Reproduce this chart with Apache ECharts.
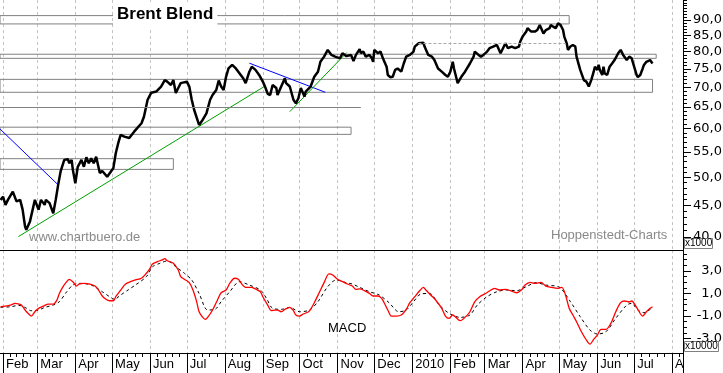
<!DOCTYPE html>
<html><head><meta charset="utf-8">
<script src="https://cdn.jsdelivr.net/npm/echarts@6/dist/echarts.min.js"></script>
<style>html,body{margin:0;padding:0;background:#fff}#c{width:723px;height:373px}</style>
</head><body><div id="c"></div>
<script>
// ---------- DATA ----------
const priceDates = ['2009-01-30','2009-02-01','2009-02-03','2009-02-05','2009-02-09','2009-02-12','2009-02-15','2009-02-17','2009-02-19','2009-02-20','2009-02-23','2009-02-24','2009-02-27','2009-02-28','2009-03-02','2009-03-04','2009-03-07','2009-03-08','2009-03-11','2009-03-14','2009-03-16','2009-03-18','2009-03-20','2009-03-23','2009-03-26','2009-03-27','2009-03-29','2009-03-30','2009-04-01','2009-04-03','2009-04-06','2009-04-08','2009-04-10','2009-04-12','2009-04-14','2009-04-16','2009-04-18','2009-04-21','2009-04-23','2009-04-27','2009-05-02','2009-05-04','2009-05-06','2009-05-08','2009-05-11','2009-05-15','2009-05-19','2009-05-25','2009-05-27','2009-05-30','2009-06-02','2009-06-06','2009-06-10','2009-06-13','2009-06-15','2009-06-18','2009-06-20','2009-06-22','2009-06-24','2009-06-26','2009-07-01','2009-07-03','2009-07-05','2009-07-07','2009-07-11','2009-07-14','2009-07-17','2009-07-20','2009-07-22','2009-07-25','2009-07-27','2009-07-29','2009-07-31','2009-08-02','2009-08-04','2009-08-07','2009-08-10','2009-08-12','2009-08-13','2009-08-16','2009-08-18','2009-08-21','2009-08-23','2009-08-26','2009-08-29','2009-09-01','2009-09-03','2009-09-05','2009-09-07','2009-09-09','2009-09-12','2009-09-13','2009-09-16','2009-09-19','2009-09-20','2009-09-23','2009-09-26','2009-09-28','2009-09-30','2009-10-02','2009-10-05','2009-10-06','2009-10-10','2009-10-13','2009-10-16','2009-10-18','2009-10-21','2009-10-24','2009-10-27','2009-10-30','2009-11-03','2009-11-05','2009-11-08','2009-11-12','2009-11-14','2009-11-16','2009-11-19','2009-11-20','2009-11-22','2009-11-24','2009-11-27','2009-11-29','2009-11-30','2009-12-01','2009-12-04','2009-12-06','2009-12-08','2009-12-11','2009-12-12','2009-12-14','2009-12-16','2009-12-18','2009-12-20','2009-12-23','2009-12-25','2009-12-27','2009-12-30','2010-01-02','2010-01-03','2010-01-06','2010-01-10','2010-01-11','2010-01-14','2010-01-17','2010-01-19','2010-01-22','2010-01-25','2010-01-28','2010-01-30','2010-02-01','2010-02-03','2010-02-04','2010-02-06','2010-02-07','2010-02-10','2010-02-13','2010-02-17','2010-02-20','2010-02-21','2010-02-24','2010-02-26','2010-02-28','2010-03-03','2010-03-05','2010-03-08','2010-03-11','2010-03-14','2010-03-15','2010-03-18','2010-03-19','2010-03-20','2010-03-23','2010-03-26','2010-03-29','2010-03-30','2010-04-01','2010-04-04','2010-04-05','2010-04-08','2010-04-11','2010-04-13','2010-04-15','2010-04-16','2010-04-18','2010-04-20','2010-04-23','2010-04-24','2010-04-26','2010-04-28','2010-04-30','2010-05-01','2010-05-02','2010-05-04','2010-05-05','2010-05-07','2010-05-08','2010-05-10','2010-05-12','2010-05-14','2010-05-15','2010-05-18','2010-05-21','2010-05-23','2010-05-25','2010-05-27','2010-05-29','2010-05-30','2010-06-01','2010-06-02','2010-06-03','2010-06-05','2010-06-06','2010-06-07','2010-06-09','2010-06-11','2010-06-13','2010-06-15','2010-06-18','2010-06-20','2010-06-22','2010-06-25','2010-06-27','2010-06-29','2010-07-01','2010-07-03','2010-07-04','2010-07-06','2010-07-08','2010-07-09','2010-07-11','2010-07-14','2010-07-16'];
const priceValues = [45.95,46.5,45.1,45.95,47.4,45.7,45.95,44.3,41.6,41.1,42.4,42.1,45.95,46.25,44.3,45.95,45.1,45.95,45.4,43.7,45.95,48.6,51.1,53.36,53.5,52.7,53.36,51.4,48.9,52.0,53.36,52.0,53.9,52.7,53.7,52.7,54.0,50.8,51.2,50.1,51.7,54.7,56.8,58.6,58.2,57.9,59.3,61.2,62.7,66.8,68.6,68.9,70.2,71.9,71.5,70.6,71.9,68.5,69.8,71.1,71.5,70.2,66.8,64.3,60.8,62.0,63.5,66.8,68.0,69.3,71.8,70.2,69.3,72.8,75.1,76.1,75.1,74.2,74.7,72.4,71.1,74.2,75.6,74.7,73.3,71.5,70.0,68.3,68.0,70.6,69.8,68.0,70.2,72.4,71.1,70.2,66.8,65.9,67.2,69.8,67.6,68.9,70.2,72.8,74.2,77.0,78.5,80.5,79.0,78.5,78.0,79.5,78.7,79.0,77.2,79.0,80.7,79.5,80.0,78.5,79.0,78.0,77.0,80.5,79.5,80.0,78.0,75.6,73.3,72.7,72.8,74.7,75.1,74.2,76.5,78.5,79.0,80.0,81.5,82.5,82.7,81.5,79.0,78.5,77.5,75.1,74.2,73.3,72.8,74.2,77.0,75.1,72.4,71.1,72.8,74.2,76.5,78.5,80.0,79.0,78.5,79.0,80.0,81.0,81.5,82.0,79.5,80.0,82.5,83.0,81.0,81.5,81.0,81.5,83.0,84.6,86.2,87.3,86.2,86.2,86.7,88.35,87.8,85.6,86.7,87.3,88.35,87.8,87.3,88.9,89.4,88.35,86.7,84.6,82.5,80.5,81.5,82.0,81.5,78.5,74.7,71.9,71.5,70.2,71.9,74.2,75.6,74.7,76.1,74.7,73.3,75.6,73.7,73.3,75.6,76.5,77.5,79.5,80.5,79.0,77.5,78.5,78.0,75.6,73.3,72.7,73.3,75.1,76.1,77.0,77.5,76.5];

const macdDates = ['2009-01-30','2009-02-03','2009-02-07','2009-02-11','2009-02-14','2009-02-16','2009-02-19','2009-02-22','2009-02-24','2009-02-27','2009-03-02','2009-03-06','2009-03-10','2009-03-14','2009-03-17','2009-03-19','2009-03-22','2009-03-25','2009-03-27','2009-03-30','2009-04-02','2009-04-04','2009-04-08','2009-04-13','2009-04-17','2009-04-20','2009-04-23','2009-04-26','2009-04-29','2009-05-02','2009-05-04','2009-05-08','2009-05-12','2009-05-16','2009-05-20','2009-05-25','2009-05-29','2009-06-01','2009-06-03','2009-06-07','2009-06-11','2009-06-13','2009-06-15','2009-06-20','2009-06-24','2009-06-26','2009-06-29','2009-07-03','2009-07-06','2009-07-09','2009-07-11','2009-07-14','2009-07-16','2009-07-18','2009-07-22','2009-07-26','2009-07-29','2009-08-02','2009-08-05','2009-08-09','2009-08-12','2009-08-14','2009-08-18','2009-08-23','2009-08-25','2009-08-30','2009-09-01','2009-09-05','2009-09-08','2009-09-11','2009-09-13','2009-09-16','2009-09-19','2009-09-23','2009-09-26','2009-09-28','2009-10-01','2009-10-04','2009-10-08','2009-10-10','2009-10-13','2009-10-17','2009-10-21','2009-10-25','2009-10-28','2009-11-01','2009-11-05','2009-11-09','2009-11-13','2009-11-16','2009-11-19','2009-11-23','2009-11-27','2009-11-30','2009-12-04','2009-12-07','2009-12-09','2009-12-12','2009-12-15','2009-12-19','2009-12-23','2009-12-27','2009-12-30','2010-01-03','2010-01-07','2010-01-10','2010-01-12','2010-01-16','2010-01-20','2010-01-25','2010-01-28','2010-01-31','2010-02-03','2010-02-05','2010-02-09','2010-02-13','2010-02-17','2010-02-21','2010-02-25','2010-03-01','2010-03-05','2010-03-09','2010-03-13','2010-03-18','2010-03-22','2010-03-27','2010-03-31','2010-04-03','2010-04-07','2010-04-11','2010-04-16','2010-04-20','2010-04-24','2010-04-30','2010-05-03','2010-05-06','2010-05-09','2010-05-12','2010-05-15','2010-05-19','2010-05-23','2010-05-26','2010-05-29','2010-06-01','2010-06-04','2010-06-08','2010-06-12','2010-06-16','2010-06-20','2010-06-23','2010-06-27','2010-06-29','2010-07-03','2010-07-08','2010-07-11','2010-07-14','2010-07-16'];
const macdValues = [-0.18,-0.12,-0.03,0.12,0.06,-0.03,-0.47,-0.82,-1.0,-0.62,-0.32,-0.12,0.06,0.06,0.42,1.0,1.6,2.04,2.25,2.04,1.65,1.83,1.89,1.83,1.65,1.3,0.77,0.48,0.35,0.35,0.71,1.3,1.83,2.04,2.19,2.34,2.78,3.22,3.6,3.81,3.96,4.07,3.89,3.66,3.07,2.48,2.25,1.95,1.3,0.27,-0.62,-1.12,-1.29,-1.12,-0.47,0.42,1.06,1.3,1.89,2.34,2.25,1.95,1.54,1.54,1.45,1.15,0.71,-0.03,-0.53,-0.47,-0.47,-0.62,-0.41,-0.23,-0.53,-0.91,-1.0,-0.82,-0.65,-0.41,0.18,1.06,1.95,2.72,2.63,2.25,2.04,1.83,1.65,1.36,1.4,1.24,1.0,0.77,0.77,0.56,0.18,-0.47,-1.0,-1.0,-0.91,-0.41,0.18,0.71,1.24,1.54,1.3,0.86,0.42,-0.32,-1.0,-1.2,-0.91,-1.06,-1.41,-1.12,-0.62,0.27,0.71,0.95,1.21,1.45,1.3,1.36,1.24,1.06,1.3,1.74,1.98,1.89,1.98,1.65,1.54,1.45,1.54,0.86,-0.32,-0.91,-1.5,-2.39,-3.12,-3.48,-3.06,-2.68,-2.18,-2.18,-1.65,-0.62,0.18,0.33,0.24,0.33,-0.23,-1.0,-0.62,-0.32,-0.18];

const signalDates = ['2009-01-30','2009-02-07','2009-02-14','2009-02-19','2009-02-24','2009-03-02','2009-03-07','2009-03-14','2009-03-19','2009-03-25','2009-03-30','2009-04-05','2009-04-14','2009-04-23','2009-04-29','2009-05-03','2009-05-08','2009-05-14','2009-05-20','2009-05-29','2009-06-03','2009-06-09','2009-06-15','2009-06-22','2009-06-29','2009-07-05','2009-07-11','2009-07-18','2009-07-24','2009-07-29','2009-08-05','2009-08-13','2009-08-21','2009-08-30','2009-09-04','2009-09-09','2009-09-16','2009-09-23','2009-10-01','2009-10-09','2009-10-16','2009-10-24','2009-10-31','2009-11-08','2009-11-13','2009-11-19','2009-11-27','2009-12-05','2009-12-13','2009-12-21','2009-12-27','2010-01-02','2010-01-08','2010-01-15','2010-01-23','2010-01-31','2010-02-09','2010-02-17','2010-02-23','2010-03-03','2010-03-11','2010-03-19','2010-03-27','2010-04-04','2010-04-12','2010-04-20','2010-05-01','2010-05-10','2010-05-18','2010-05-26','2010-06-01','2010-06-08','2010-06-16','2010-06-25','2010-06-29','2010-07-04','2010-07-09','2010-07-16'];
const signalValues = [-0.24,-0.18,-0.06,-0.24,-0.53,-0.47,-0.24,-0.03,0.27,1.15,1.74,1.89,1.74,1.15,0.71,0.48,0.86,1.3,1.74,2.48,3.36,3.66,3.87,3.36,2.78,2.19,1.0,-0.47,-0.41,0.27,1.15,2.04,1.74,1.3,0.56,-0.32,-0.41,-0.24,-0.62,-0.47,0.27,1.6,2.19,1.95,1.83,1.54,1.15,0.86,0.18,-0.62,-0.47,0.27,0.95,1.0,-0.03,-0.76,-1.12,-0.91,-0.03,0.71,1.15,1.3,1.24,1.6,1.95,1.74,1.54,0.27,-1.06,-2.24,-2.59,-2.39,-1.2,-0.03,0.12,-0.47,-0.71,-0.24];

const monthTicks = ['2009-02-01','2009-03-01','2009-04-01','2009-05-01','2009-06-01','2009-07-01','2009-08-01','2009-09-01','2009-10-01','2009-11-01','2009-12-01','2010-01-01','2010-02-01','2010-03-01','2010-04-01','2010-05-01','2010-06-01','2010-07-01','2010-08-01'];
const monthLabels = ['Feb','Mar','Apr','May','Jun','Jul','Aug','Sep','Oct','Nov','Dec','2010','Feb','Mar','Apr','May','Jun','Jul','A'];
const priceTickLabels = [40,45,50,55,60,65,70,75,80,85,90];
const macdTickLabels = [-3,-1,1,3];

// support / resistance zones (date range, price range)
const zoneStart = ['2009-01-29 13:00','2009-01-29 13:00','2009-01-29 13:00','2009-01-29 13:00','2009-01-29 13:00'];
const zoneEnd   = ['2010-05-09','2010-07-19','2010-07-16','2009-11-12','2009-06-20'];
const zoneHigh  = [91.5, 79.2, 72.1, 60.3, 53.6];
const zoneLow   = [88.7, 78.0, 68.7, 58.7, 51.5];
// single level lines
const levelStart = ['2009-01-29 13:00','2010-01-06'];
const levelEnd   = ['2009-11-20','2010-05-06'];
const levelValue = [64.95, 82.5];
// trend lines
const trendStart = ['2009-01-29 13:00','2009-02-13 12:00','2009-08-21','2009-09-23'];
const trendEnd   = ['2009-03-18','2009-09-03','2009-10-22','2009-11-08 12:00'];
const trendStartVal = [59.9, 40.05, 76.6, 63.9];
const trendEndVal   = [48.6, 70.35, 68.7, 79.7];

// ---------- BUILD ----------
function ts(s) {
  const [d, t] = s.split(' ');
  const [Y, M, D] = d.split('-').map(Number);
  let h = 0, m = 0;
  if (t) { [h, m] = t.split(':').map(Number); }
  return new Date(Y, M - 1, D, h, m).getTime();
}
const X_MIN = ts('2009-01-29 13:00');
const X_MAX = ts('2010-08-09 21:00');
const Y_MIN = 38.1, Y_MAX = 97.0;
const M_MIN = -4.27, M_MAX = 4.84;

const monthTs = monthTicks.map(ts);
function monthLabel(v) {
  let best = -1, bd = Infinity;
  monthTs.forEach((t, i) => { const d = Math.abs(t - v); if (d < bd) { bd = d; best = i; } });
  return bd < 86400000 ? monthLabels[best] : '';
}
const minorTs = [];
for (let i = 0; i < monthTs.length - 1; i++) {
  for (let k = 1; k < 5; k++) minorTs.push(monthTs[i] + (monthTs[i + 1] - monthTs[i]) * k / 5);
}
minorTs.push(monthTs[monthTs.length - 1] + 6.2 * 86400000);
const priceMinor = [];
for (let v = 38; v <= 97; v++) priceMinor.push(v);
const macdMinor = [];
for (let v = -4; v <= 4.5; v += 0.5) macdMinor.push(v);

const comma = v => (Math.round(v * 10) / 10).toFixed(1).replace('.', ',');
const FONT = 'Liberation Sans, Arial, sans-serif';
const AXFONT = 'DejaVu Sans, sans-serif';
const GRIDLINE = { show: true, lineStyle: { color: '#c4c4c4', type: [3, 3], width: 1 } };

const priceData = priceDates.map((d, i) => [ts(d), priceValues[i]]);
const macdData = macdDates.map((d, i) => [ts(d), macdValues[i]]);
const signalData = signalDates.map((d, i) => [ts(d), signalValues[i]]);

const zoneAreas = zoneStart.map((s, i) => [
  { xAxis: ts(s), yAxis: zoneHigh[i] },
  { xAxis: ts(zoneEnd[i]), yAxis: zoneLow[i] }
]);
const levelLines = levelStart.map((s, i) => [
  { coord: [ts(s), levelValue[i]], lineStyle: { type: i === 1 ? [3, 2] : 'solid', color: i === 1 ? '#a8a8a8' : '#808080' } },
  { coord: [ts(levelEnd[i]), levelValue[i]] }
]);
const trendColors = ['#0000ff', '#00a000', '#0000ff', '#00a000'];
const trendSeries = trendStart.map((s, i) => ({
  type: 'line', xAxisIndex: 0, yAxisIndex: 0, silent: true, symbol: 'none', z: 3,
  data: [[ts(s), trendStartVal[i]], [ts(trendEnd[i]), trendEndVal[i]]],
  lineStyle: { color: trendColors[i], width: 1 }, animation: false
}));

const xBase = { type: 'value', min: X_MIN, max: X_MAX, position: 'bottom', scale: true };

const chart = echarts.init(document.getElementById('c'), null, { renderer: 'canvas' });
chart.setOption({
  animation: false,
  backgroundColor: '#ffffff',
  title: [
    { text: 'Brent Blend', left: 113, top: 2, padding: [3, 4, 3, 4], backgroundColor: '#ffffff',
      textStyle: { fontFamily: FONT, fontSize: 17, fontWeight: 'bold', color: '#000', lineHeight: 19 } },
    { text: 'www.chartbuero.de', left: 29, top: 231, padding: 0,
      textStyle: { fontFamily: FONT, fontSize: 13, fontWeight: 'normal', color: '#8a8a8a' } },
    { text: 'Hoppenstedt-Charts', left: 551, top: 229, padding: 0,
      textStyle: { fontFamily: FONT, fontSize: 13, fontWeight: 'normal', color: '#8a8a8a' } },
    { text: 'MACD', left: 328, top: 322, padding: 0,
      textStyle: { fontFamily: FONT, fontSize: 13, fontWeight: 'normal', color: '#000' } },
    { text: 'x1000', left: 684, top: 239, padding: [0, 1, 0, 1], backgroundColor: '#fff', borderColor: '#808080', borderWidth: 1,
      textStyle: { fontFamily: FONT, fontSize: 10, fontWeight: 'normal', color: '#000', lineHeight: 9 } },
    { text: 'x10000', left: 684, top: 342, padding: [0, 1, 0, 1], backgroundColor: '#fff', borderColor: '#808080', borderWidth: 1,
      textStyle: { fontFamily: FONT, fontSize: 10, fontWeight: 'normal', color: '#000', lineHeight: 9 } }
  ],
  grid: [
    { left: 0, top: 0, width: 683, height: 250, containLabel: false, outerBoundsMode: 'none' },
    { left: 0, top: 250, width: 683, height: 103, containLabel: false, outerBoundsMode: 'none' }
  ],
  xAxis: [
    Object.assign({}, xBase, { gridIndex: 0,
      axisLine: { show: true, onZero: false, lineStyle: { color: '#000', width: 1 } },
      axisTick: { show: false, customValues: monthTs },
      axisLabel: { show: false },
      splitLine: GRIDLINE }),
    Object.assign({}, xBase, { gridIndex: 1,
      axisLine: { show: true, onZero: false, lineStyle: { color: '#000', width: 1 } },
      axisTick: { show: true, inside: false, length: 20, customValues: monthTs.concat([X_MAX]), lineStyle: { color: '#000', width: 1 } },
      axisLabel: { show: true, customValues: monthTs, align: 'left', margin: 5, padding: [0, 0, 0, 3],
        fontFamily: FONT, fontSize: 13, color: '#000', formatter: v => monthLabel(v) },
      splitLine: GRIDLINE }),
    Object.assign({}, xBase, { gridIndex: 1,
      axisLine: { show: false, onZero: false },
      axisTick: { show: true, inside: false, length: 4, customValues: minorTs, lineStyle: { color: '#000', width: 1 } },
      axisLabel: { show: false },
      splitLine: { show: false } })
  ],
  yAxis: [
    { type: 'log', gridIndex: 0, position: 'right', min: Y_MIN, max: Y_MAX,
      axisLine: { show: true, onZero: false, lineStyle: { color: '#000', width: 1 } },
      axisTick: { show: true, inside: false, length: 4, customValues: priceMinor, lineStyle: { color: '#000' } },
      axisLabel: { show: true, customValues: priceTickLabels, formatter: v => comma(v), align: 'right', margin: 39,
        fontFamily: AXFONT, fontSize: 13, color: '#000' },
      splitLine: { show: false } },
    { type: 'log', gridIndex: 0, position: 'right', min: Y_MIN, max: Y_MAX,
      axisLine: { show: false, onZero: false },
      axisTick: { show: true, inside: false, length: 8, customValues: priceTickLabels, lineStyle: { color: '#000' } },
      axisLabel: { show: false }, splitLine: { show: false } },
    { type: 'value', gridIndex: 1, position: 'right', min: M_MIN, max: M_MAX,
      axisLine: { show: true, onZero: false, lineStyle: { color: '#000', width: 1 } },
      axisTick: { show: true, inside: false, length: 4, customValues: macdMinor, lineStyle: { color: '#000' } },
      axisLabel: { show: true, customValues: macdTickLabels, formatter: v => comma(v), align: 'right', margin: 39,
        fontFamily: AXFONT, fontSize: 13, color: '#000' },
      splitLine: { show: false } },
    { type: 'value', gridIndex: 1, position: 'right', min: M_MIN, max: M_MAX,
      axisLine: { show: false, onZero: false },
      axisTick: { show: true, inside: false, length: 8, customValues: macdTickLabels, lineStyle: { color: '#000' } },
      axisLabel: { show: false }, splitLine: { show: false } }
  ],
  series: [
    { name: 'Brent', type: 'line', xAxisIndex: 0, yAxisIndex: 0, data: priceData, symbol: 'none', z: 4,
      lineStyle: { color: '#000', width: 2.5 },
      markArea: { silent: true, itemStyle: { color: 'rgba(0,0,0,0)', borderColor: '#808080', borderWidth: 1 }, data: zoneAreas },
      markLine: { silent: true, symbol: ['none', 'none'], label: { show: false }, lineStyle: { color: '#808080', width: 1, type: 'solid' }, data: levelLines, animation: false }
    },
    ...trendSeries,
    { name: 'MACD', type: 'line', xAxisIndex: 1, yAxisIndex: 2, data: macdData, symbol: 'none', smooth: 0.3, z: 4,
      lineStyle: { color: '#ff0000', width: 1.3 } },
    { name: 'Signal', type: 'line', xAxisIndex: 1, yAxisIndex: 2, data: signalData, symbol: 'none', smooth: 0.3, z: 3,
      lineStyle: { color: '#000', width: 1, type: [3, 3] } }
  ]
});
</script>
</body></html>
